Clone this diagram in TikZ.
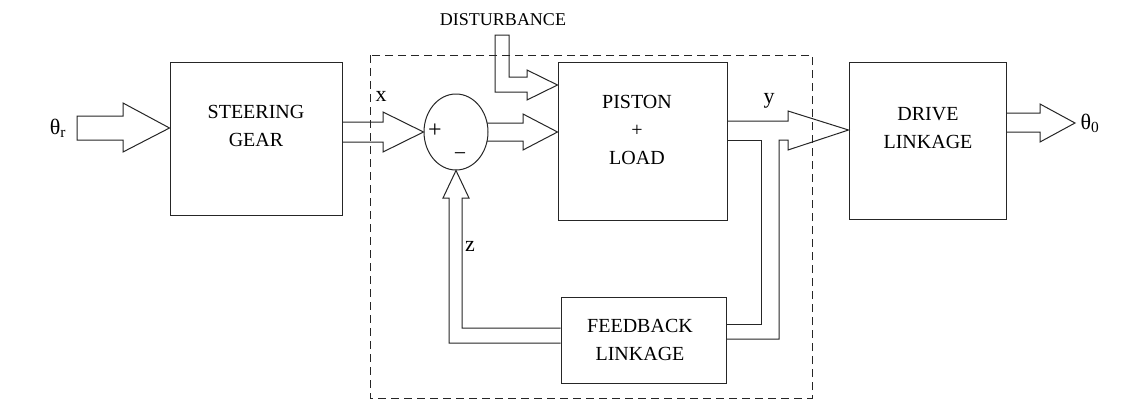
\documentclass[tikz,border=0pt]{standalone}
\usepackage{fontspec}
\setmainfont{Liberation Serif}
\usetikzlibrary{shapes.geometric}

\tikzset{
  block/.style={draw,inner sep=0pt},
  txt/.style={font=\fontsize{20}{28}\selectfont,align=center,inner sep=0pt},
  sym/.style={font=\fontsize{22}{26}\selectfont,inner sep=0pt},
}

\begin{document}
\begin{tikzpicture}[x=1pt,y=-1pt,line width=1pt,draw=black!85]
  \fill[white] (0,0) rectangle (1133,418);
  \useasboundingbox (0,0) rectangle (1133,418);

  % blocks
  \node[block,minimum width=172pt,minimum height=153pt] (gear) at (256,138.5) {};
  \node[block,minimum width=169pt,minimum height=158pt] (piston) at (642.5,141) {};
  \node[block,minimum width=157pt,minimum height=157pt] (drive) at (927.5,140.5) {};
  \node[block,minimum width=165pt,minimum height=86pt] (fb) at (643.5,340) {};
  \node[draw,ellipse,minimum width=64pt,minimum height=76pt,inner sep=0pt] (sum) at (456,132) {};

  \node[txt] (gear-txt) at (256,126) {STEERING\\GEAR};
  \node[txt] (piston-txt) at (637,130) {PISTON\\+\\LOAD};
  \node[txt] (drive-txt) at (928,128) {DRIVE\\LINKAGE};
  \node[txt] (fb-txt) at (640,340) {FEEDBACK\\LINKAGE};
  \node[sym,font=\fontsize{24}{28}\selectfont] (plus) at (435,131) {+};
  \node[sym] (minus) at (460,157) {−};

  % dashed boundary
  \draw[dash pattern=on 8pt off 5pt] (370,55) rectangle (812,398);

  % hollow arrows
  \draw (77,116) -- (123,116) -- (123,103) -- (gear.west |- 0,128) -- (123,152) -- (123,140) -- (77,140) -- cycle;
  \draw (gear.east |- 0,122) -- (383,122) -- (383,112) -- (sum.west) -- (383,152) -- (383,142) -- (gear.east |- 0,142);
  \draw (487,123) -- (523,123) -- (523,114) -- (piston.west |- sum.west) -- (523,150) -- (523,141) -- (487,141);
  \draw (495,35) -- (509,35) -- (509,77) -- (527,77) -- (527,70) -- (piston.west |- 0,85) -- (527,100) -- (527,92) -- (495,92) -- cycle;
  \draw (piston.east |- 0,121) -- (788,121) -- (788,111) -- (drive.west |- 0,130) -- (788,150) -- (788,140) -- (779,140) -- (779,339) -- (fb.east |- 0,339);
  \draw (piston.east |- 0,140) -- (761,140) -- (761,324) -- (fb.east |- 0,324);
  \draw (drive.east |- 0,113) -- (1040,113) -- (1040,104) -- (1075,123) -- (1040,142) -- (1040,132) -- (drive.east |- 0,132);
  \draw (fb.west |- 0,328) -- (462,328) -- (462,198) -- (469,198) -- (sum.south) -- (443,198) -- (449,198) -- (449,343) -- (fb.west |- 0,343);

  % labels
  \node[txt,font=\fontsize{18}{22}\selectfont] (dist) at (503,20) {DISTURBANCE};
  \node[sym] (x-lbl) at (381,96) {x};
  \node[sym] (y-lbl) at (769,101) {y};
  \node[sym] (z-lbl) at (470,246) {z};
  \node[sym] (thr) at (58,128) {θ\textsubscript{r}};
  \node[sym] (th0) at (1090,123) {θ\textsubscript{0}};
\end{tikzpicture}
\end{document}
